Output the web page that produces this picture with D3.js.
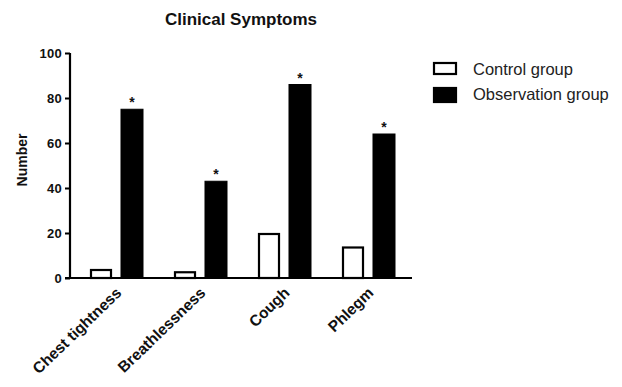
<!DOCTYPE html>
<html>
<head>
<meta charset="utf-8">
<script src="https://cdn.jsdelivr.net/npm/d3@7"></script>
<style>
  html, body { margin: 0; padding: 0; background: #fff; }
  svg { display: block; font-family: "Liberation Sans", Arial, sans-serif; }
</style>
</head>
<body>
<svg id="chart" width="622" height="387"></svg>
<script>
// Symptom counts per group
const categories = ["Chest tightness", "Breathlessness", "Cough", "Phlegm"];
const seriesNames = ["Control group", "Observation group"];
const controlValues = [4, 3, 20, 14];
const observationValues = [75, 43, 86, 64];
const significant = [true, true, true, true];
const yTicks = [0, 20, 40, 60, 80, 100];

const values = { "Control group": controlValues, "Observation group": observationValues };

const svg = d3.select("#chart");
const margin = { left: 70, top: 53, right: 211, bottom: 109 };
const width = 622 - margin.left - margin.right;
const height = 387 - margin.top - margin.bottom;

const g = svg.append("g").attr("transform", `translate(${margin.left},${margin.top})`);

const y = d3.scaleLinear().domain([0, 100]).range([height, 0]);
const x0 = d3.scaleBand().domain(categories).range([4.5, 340.5]).padding(0);
const x1 = d3.scaleBand().domain(seriesNames).range([0, x0.bandwidth()])
  .paddingInner(0.29).paddingOuter(0.5);

// Bars
categories.forEach((cat, i) => {
  const grp = g.append("g").attr("transform", `translate(${x0(cat)},0)`);
  seriesNames.forEach(s => {
    const v = values[s][i];
    const filled = s === "Observation group";
    grp.append("rect")
      .attr("x", x1(s) + (filled ? 0 : 1))
      .attr("y", y(v) + (filled ? 0 : 1))
      .attr("width", x1.bandwidth() - (filled ? 0 : 2))
      .attr("height", Math.max(0, height - y(v) - (filled ? 0 : 1)))
      .attr("fill", filled ? "#000" : "#fff")
      .attr("stroke", "#000")
      .attr("stroke-width", filled ? 1 : 2.2);
    if (filled && significant[i]) {
      grp.append("text")
        .attr("x", x1(s) + x1.bandwidth() / 2)
        .attr("y", y(v) - 2)
        .attr("text-anchor", "middle")
        .attr("font-size", 14)
        .attr("font-weight", "bold")
        .attr("fill", "#111")
        .text("*");
    }
  });
});

// Y axis
const yAxis = g.append("g")
  .call(d3.axisLeft(y).tickValues(yTicks).tickSize(5).tickPadding(3));
yAxis.select(".domain").attr("stroke", "#000").attr("stroke-width", 2.2)
  .attr("d", `M0,${height}V0`);
yAxis.selectAll(".tick line").attr("stroke", "#000").attr("stroke-width", 2);
yAxis.selectAll(".tick text").attr("font-size", 13).attr("font-weight", "bold")
  .attr("fill", "#111").attr("font-family", "'Liberation Sans', Arial, sans-serif")
  .attr("letter-spacing", "0.3");

// X axis
const xAxis = g.append("g").attr("transform", `translate(0,${height})`)
  .call(d3.axisBottom(x0).tickSize(0).tickPadding(0));
xAxis.select(".domain").attr("stroke", "#000").attr("stroke-width", 2.2)
  .attr("d", `M-5,0H342`);
xAxis.selectAll(".tick text")
  .attr("font-size", 15.5).attr("font-weight", "bold").attr("fill", "#111")
  .attr("font-family", "'Liberation Sans', Arial, sans-serif")
  .attr("text-anchor", "end")
  .attr("dy", null)
  .attr("transform", "translate(6,16) rotate(-44)");

// Y axis title
svg.append("text")
  .attr("transform", "translate(27,160) rotate(-90)")
  .attr("text-anchor", "middle")
  .attr("font-size", 14).attr("font-weight", "bold").attr("fill", "#111")
  .text("Number");

// Chart title
svg.append("text")
  .attr("x", 241).attr("y", 25)
  .attr("text-anchor", "middle")
  .attr("font-size", 17).attr("font-weight", "bold").attr("fill", "#111")
  .text("Clinical Symptoms");

// Legend
const legend = svg.append("g").attr("transform", "translate(433,62)");
seriesNames.forEach((s, i) => {
  const filled = s === "Observation group";
  legend.append("rect")
    .attr("x", 1).attr("y", i * 25 + 1)
    .attr("width", 22).attr("height", filled ? 14 : 11)
    .attr("fill", filled ? "#000" : "#fff")
    .attr("stroke", "#000").attr("stroke-width", 2.2);
  legend.append("text")
    .attr("x", 40).attr("y", i * 25 + 13)
    .attr("font-size", 16.5).attr("fill", "#222")
    .text(s);
});
</script>
</body>
</html>
